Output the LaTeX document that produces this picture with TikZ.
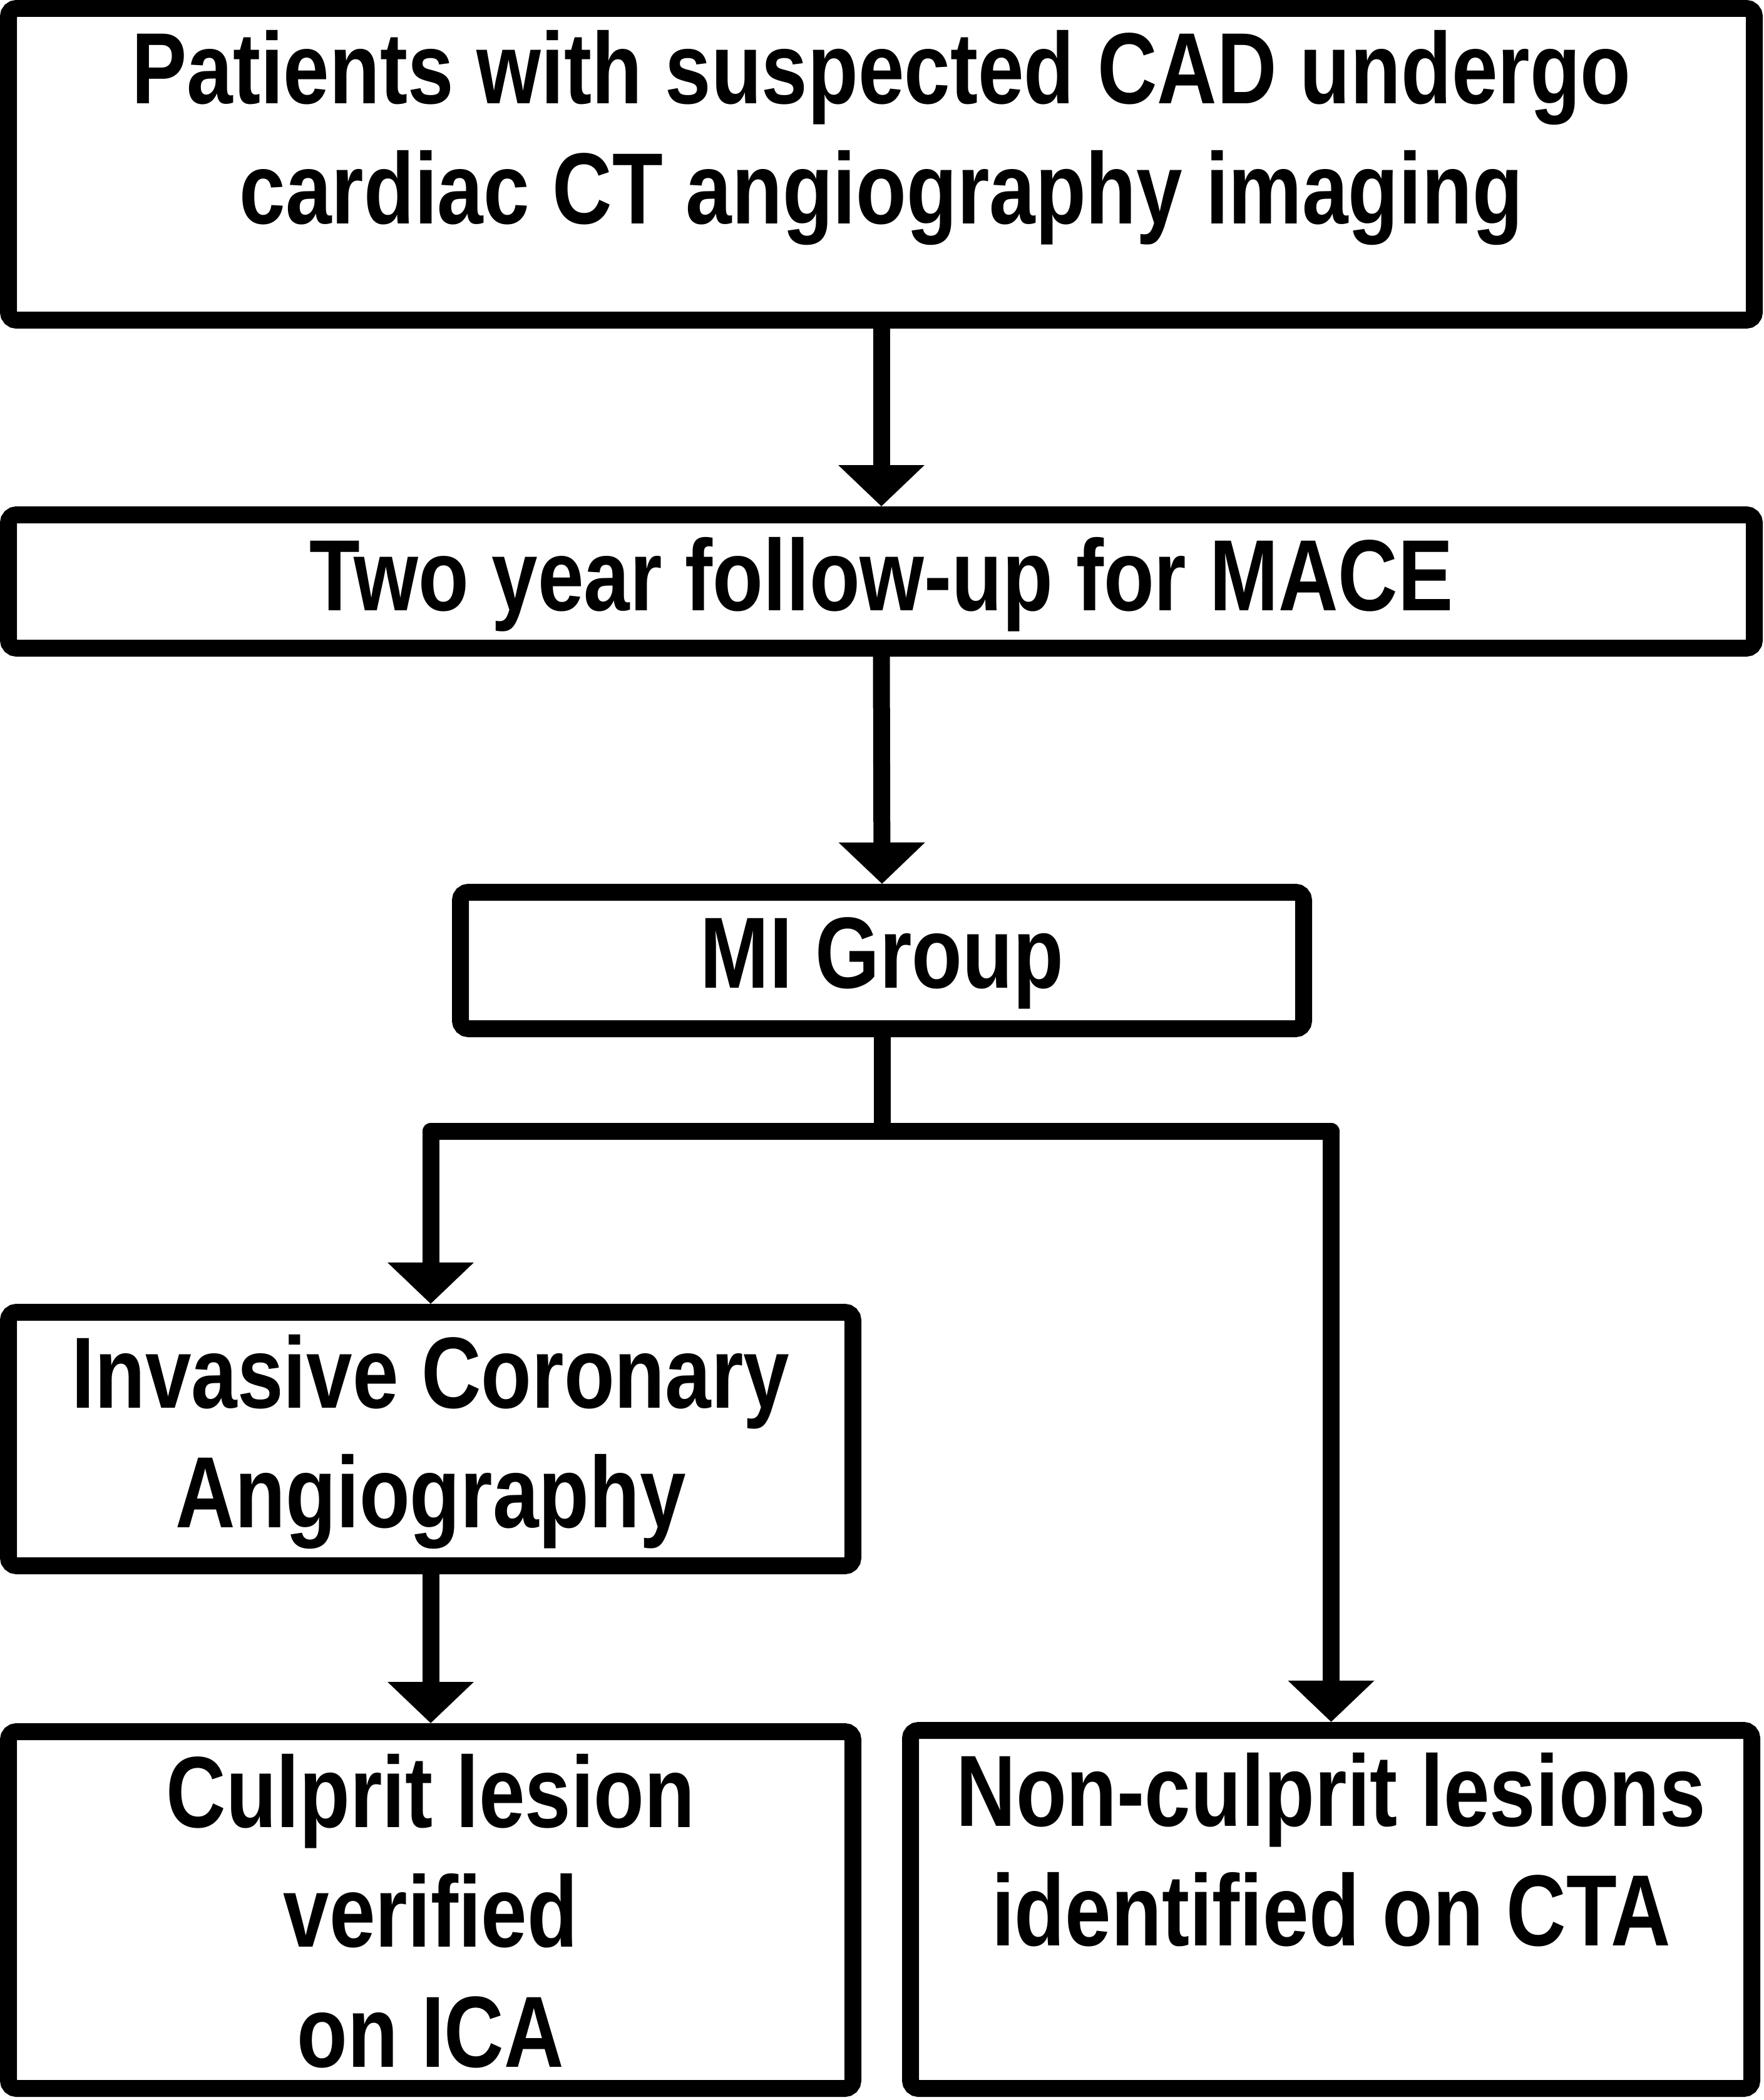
\documentclass[tikz,border=0pt]{standalone}
\usepackage{fontspec}
\setmainfont{Liberation Sans}[FakeStretch=0.818]
\usetikzlibrary{arrows.meta}

\tikzset{
  box/.style={draw, line width=0.27cm, rounded corners=0.13cm, anchor=north west,
    inner sep=0pt, outer sep=0.135cm, text height=1.525cm,
    font=\fontsize{46}{54.6}\selectfont\bfseries},
  conn/.style={line width=0.27cm, line join=round},
  arr/.style={conn, -{Triangle[width=1.34cm,length=0.66cm]}}
}

\begin{document}
\begin{tikzpicture}
                \useasboundingbox (0, 0) rectangle (28.17, -33.55);
                % Boxes
                \node [box, minimum width=27.89cm, text depth=3.455cm] (pat) at (0, 0)
                  {\begin{tabular}[t]{@{}c@{}}Patients with suspected CAD undergo\\cardiac CT angiography imaging\end{tabular}};
                \node [box, minimum width=27.89cm, text depth=0.605cm] (fup) at (0, -8.09)
                  {\begin{tabular}[t]{@{}c@{}}Two year follow-up for MACE\end{tabular}};
                \node [box, minimum width=13.47cm, text depth=0.655cm] (mi) at (7.22, -14.12)
                  {\begin{tabular}[t]{@{}c@{}}MI Group\end{tabular}};
                \node [box, minimum width=13.49cm, text depth=2.525cm] (ica) at (0, -20.83)
                  {\begin{tabular}[t]{@{}c@{}}Invasive Coronary\\Angiography\end{tabular}};
                \node [box, minimum width=13.49cm, text depth=4.175cm] (cul) at (0, -27.53)
                  {\begin{tabular}[t]{@{}c@{}}Culprit lesion\\verified\\on ICA\end{tabular}};
                \node [box, minimum width=13.44cm, text depth=4.195cm] (noncul) at (14.41, -27.51)
                  {\begin{tabular}[t]{@{}c@{}}Non-culprit lesions\\identified on CTA\end{tabular}};
                % Arrows
                \draw [arr] (pat.south) -- (fup.north);
                \draw [arr] (fup.south) -- (mi.north);
                \draw [conn] (mi.south) -- ++(0, -1.5) coordinate (split);
                \draw [arr] (split) -| (ica.north);
                \draw [arr] (split) -| (noncul.north);
                \draw [arr] (ica.south) -- (cul.north);
            \end{tikzpicture}
\end{document}
